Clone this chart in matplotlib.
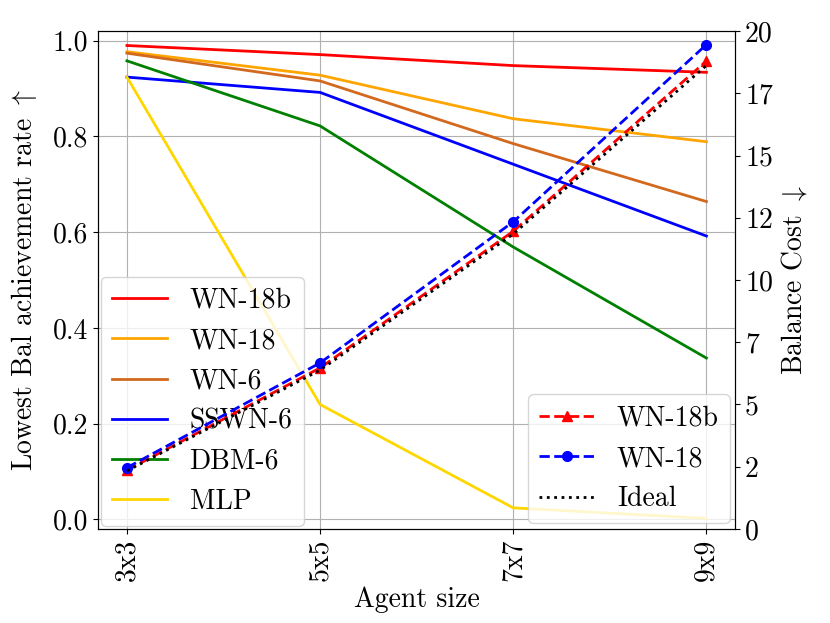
import matplotlib
matplotlib.use('Agg')
import matplotlib.pyplot as plt

plt.rcParams['font.family'] = 'serif'
plt.rcParams['font.serif'] = ['cmr10']
plt.rcParams['mathtext.fontset'] = 'cm'
plt.rcParams['axes.unicode_minus'] = False
plt.rcParams['axes.formatter.use_mathtext'] = True
plt.rcParams['font.size'] = 20
plt.rcParams['lines.linewidth'] = 2.0

sizes = ['3x3', '5x5', '7x7', '9x9']

# lowest balance achievement rate (left axis)
wn18b_rate = [0.990, 0.971, 0.948, 0.934]
wn18_rate = [0.977, 0.928, 0.837, 0.789]
wn6_rate = [0.974, 0.916, 0.785, 0.664]
sswn6_rate = [0.924, 0.892, 0.742, 0.592]
dbm6_rate = [0.958, 0.822, 0.569, 0.337]
mlp_rate = [0.924, 0.240, 0.024, 0.002]

# balance cost (right axis)
wn18b_cost = [2.36, 6.47, 11.96, 18.8]
wn18_cost = [2.46, 6.67, 12.34, 19.46]
ideal_cost = [2.33, 6.38, 11.85, 18.62]

right_ticks = [0, 2.5, 5, 7.5, 10, 12.5, 15, 17.5, 20]
right_labels = ['0', '2', '5', '7', '10', '12', '15', '17', '20']

fig = plt.figure(figsize=(8.3, 6.23), dpi=100)
ax = fig.add_subplot(111)
fig.subplots_adjust(left=0.118, right=0.886, top=0.95, bottom=0.151)

x = list(range(len(sizes)))
ax.plot(x, wn18b_rate, color='red', label='WN-18b')
ax.plot(x, wn18_rate, color='orange', label='WN-18')
ax.plot(x, wn6_rate, color='chocolate', label='WN-6')
ax.plot(x, sswn6_rate, color='blue', label='SSWN-6')
ax.plot(x, dbm6_rate, color='green', label='DBM-6')
ax.plot(x, mlp_rate, color='gold', label='MLP')
ax.set_ylim(-0.02, 1.02)
ax.set_yticks([0.0, 0.2, 0.4, 0.6, 0.8, 1.0])
ax.set_yticklabels(['0.0', '0.2', '0.4', '0.6', '0.8', '1.0'])
ax.set_xticks(x)
ax.set_xticklabels(sizes, rotation=90)
ax.set_xlabel('Agent size')
ax.set_ylabel(r'Lowest Bal achievement rate $\uparrow$', labelpad=10)
ax.grid(True)
ax.legend(loc='lower left', borderaxespad=0.1)

ax2 = ax.twinx()
ax2.plot(x, wn18b_cost, color='red', linestyle='--', marker='^', markersize=7, label='WN-18b')
ax2.plot(x, wn18_cost, color='blue', linestyle='--', marker='o', markersize=7, label='WN-18')
ax2.plot(x, ideal_cost, color='black', linestyle=':', label='Ideal')
ax2.set_ylim(0, 20)
ax2.set_yticks(right_ticks)
ax2.set_yticklabels(right_labels)
ax2.set_ylabel(r'Balance Cost $\downarrow$')
ax2.legend(loc='lower right', borderaxespad=0.2)

fig.savefig('out.png', dpi=100)
